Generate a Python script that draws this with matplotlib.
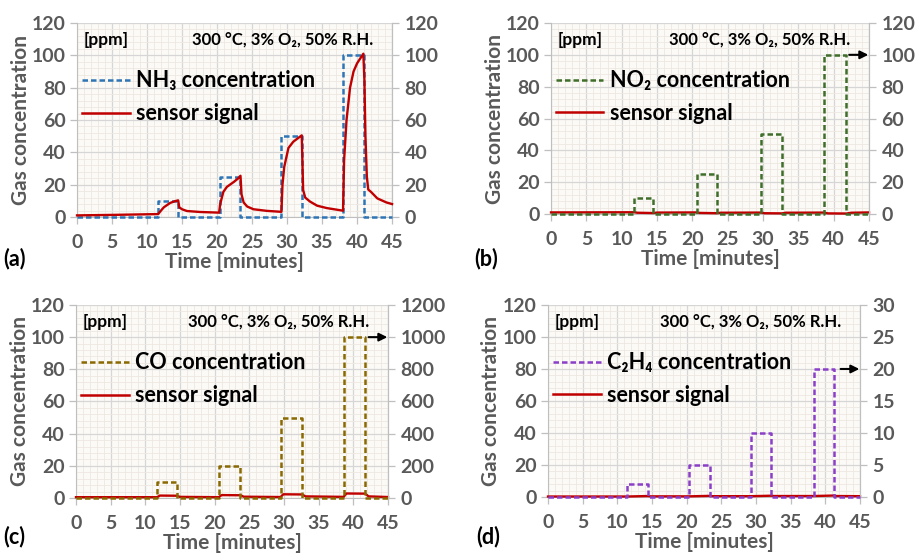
import matplotlib
matplotlib.use('Agg')
import matplotlib.pyplot as plt
from matplotlib.lines import Line2D
from matplotlib.ticker import MultipleLocator

plt.rcParams['font.family'] = ['Lato', 'DejaVu Sans']
plt.rcParams['font.weight'] = 'bold'

GRAY = '#595959'
RED = '#C00000'
DASH = (0, (2.2, 1.2))

# --- gas pulses: switch-on / switch-off times [min] and levels [ppm]
nh3_on = [11.6, 20.4, 29.2, 38.0]
nh3_off = [14.45, 23.35, 32.1, 41.05]
nh3_lvl = [10, 25, 50, 100]

no2_on = [11.8, 20.6, 29.7, 38.6]
no2_off = [14.5, 23.5, 32.7, 41.8]
no2_lvl = [10, 25, 50, 100]

co_on = [11.7, 20.6, 29.5, 38.6]
co_off = [14.5, 23.7, 32.6, 41.7]
co_lvl = [100, 200, 500, 1000]

c2h4_on = [11.4, 20.3, 29.3, 38.3]
c2h4_off = [14.4, 23.3, 32.2, 41.2]
c2h4_lvl = [2, 5, 10, 20]

# --- sensor signals
t_a = [0, 5, 11.6, 12.0, 12.4, 13.3, 14.0, 14.45, 14.6, 15.0, 15.7, 17.6, 20.3,
       20.45, 20.9, 21.4, 22.4, 23.0, 23.35, 23.5, 23.8, 24.3, 25.2, 27.1, 29.2,
       29.35, 29.6, 30.2, 30.9, 32.1, 32.3, 32.6, 33.3, 34.3, 35.7, 38.0, 38.15,
       38.5, 39.0, 39.5, 40.0, 40.9, 41.05, 41.2, 41.4, 41.6, 42.0, 42.9, 44.2, 45]
s_a = [1.0, 1.3, 1.8, 4.0, 6.0, 8.7, 9.8, 10.3, 6.0, 4.8, 3.7, 3.1, 2.7,
       8.0, 15.5, 18.6, 21.7, 23.8, 25.5, 14.0, 9.0, 6.5, 4.8, 3.8, 3.2,
       20.0, 31.0, 42.7, 46.6, 50.5, 16.7, 12.0, 9.5, 7.0, 5.5, 3.9, 35.0,
       60.0, 80.0, 90.0, 95.0, 101.0, 85.0, 50.0, 25.0, 17.0, 15.5, 11.5, 9.0, 8.0]

t_b = [0, 11.8, 12.2, 14.5, 15.0, 20.6, 21.0, 23.5, 24.0, 29.7, 30.2, 32.7, 33.2,
       38.6, 39.2, 41.8, 42.5, 45]
s_b = [1.0, 1.1, 0.8, 0.6, 0.9, 1.0, 0.7, 0.5, 0.8, 0.9, 0.5, 0.4, 0.8,
       0.9, 0.4, 0.3, 0.8, 1.0]

t_c = [0, 11.7, 12.1, 14.5, 15.0, 20.6, 21.0, 23.7, 24.2, 29.5, 29.9, 32.6, 33.1,
       38.6, 39.0, 41.7, 42.2, 45]
s_c = [0.5, 0.5, 1.5, 1.4, 0.7, 0.5, 1.8, 1.7, 0.8, 0.6, 2.3, 2.2, 1.0,
       0.7, 2.8, 2.7, 1.0, 0.6]

t_d = [0, 11.4, 14.4, 14.8, 20.3, 23.3, 23.7, 29.3, 32.2, 32.6, 38.3, 41.2, 41.6, 45]
s_d = [0.3, 0.3, 0.6, 0.4, 0.4, 0.7, 0.5, 0.5, 0.8, 0.6, 0.6, 0.9, 0.6, 0.5]

panels = [
    dict(tag='(a)', gas='NH\u2083 concentration', col='#2E75B6', on=nh3_on, off=nh3_off,
         lvl=nh3_lvl, t=t_a, s=s_a, rmax=120, rstep=20, sens_top=True, arrow=None,
         rect=[0.0838, 0.6083, 0.3428, 0.3502], lab=(0.003, 0.513)),
    dict(tag='(b)', gas='NO\u2082 concentration', col='#3F6D2A', on=no2_on, off=no2_off,
         lvl=no2_lvl, t=t_b, s=s_b, rmax=120, rstep=20, sens_top=False, arrow=100,
         rect=[0.5996, 0.6137, 0.3460, 0.3448], lab=(0.516, 0.513)),
    dict(tag='(c)', gas='CO concentration', col='#8A6A00', on=co_on, off=co_off,
         lvl=co_lvl, t=t_c, s=s_c, rmax=1200, rstep=200, sens_top=False, arrow=100,
         rect=[0.0827, 0.1011, 0.3395, 0.3484], lab=(0.003, 0.012)),
    dict(tag='(d)', gas='C\u2082H\u2084 concentration', col='#8A3FC8', on=c2h4_on, off=c2h4_off,
         lvl=c2h4_lvl, t=t_d, s=s_d, rmax=30, rstep=5, sens_top=False, arrow=80,
         rect=[0.5963, 0.1029, 0.3395, 0.3466], lab=(0.518, 0.012)),
]

fig = plt.figure(figsize=(9.19, 5.54), dpi=100)

for p in panels:
    ax = fig.add_axes(p['rect'])
    ax.set_facecolor('#FCFAF7')
    ax.set_xlim(0, 45)
    ax.set_ylim(0, 120)
    ax.xaxis.set_major_locator(MultipleLocator(5))
    ax.xaxis.set_minor_locator(MultipleLocator(1))
    ax.yaxis.set_major_locator(MultipleLocator(20))
    ax.yaxis.set_minor_locator(MultipleLocator(4))
    ax.grid(which='minor', color='#EEE7E1', lw=0.6)
    ax.grid(which='major', color='#D6D6D6', lw=0.9)
    ax.set_axisbelow(True)
    ax.spines['top'].set_visible(False)
    for side in ['left', 'bottom', 'right']:
        ax.spines[side].set_color('#BFBFBF')
    ax.tick_params(which='minor', length=0)
    ax.tick_params(which='major', colors='#BFBFBF', labelcolor=GRAY, labelsize=14,
                   length=5, width=0.9, direction='out', pad=3)
    ax.tick_params(axis='x', pad=7)
    ax.set_xlabel('Time [minutes]', color=GRAY, fontsize=15, fontweight='bold', labelpad=1)
    ax.set_ylabel('Gas concentration', color=GRAY, fontsize=15, fontweight='bold', labelpad=1)

    ax2 = ax.twinx()
    ax2.set_ylim(0, p['rmax'])
    ax2.yaxis.set_major_locator(MultipleLocator(p['rstep']))
    for side in ['top', 'left', 'bottom']:
        ax2.spines[side].set_visible(False)
    ax2.spines['right'].set_color('#BFBFBF')
    ax2.tick_params(which='major', colors='#BFBFBF', labelcolor=GRAY, labelsize=14,
                    length=5, width=0.9, direction='out', pad=4)
    ax2.patch.set_visible(False)

    # step series built from the on/off tables (right-hand scale)
    xs, ys = [0], [0]
    for a, b, v in zip(p['on'], p['off'], p['lvl']):
        xs += [a, a, b, b]
        ys += [0, v, v, 0]
    xs.append(45)
    ys.append(0)
    ax2.plot(xs, ys, color=p['col'], lw=1.8, ls=DASH, zorder=3, clip_on=False)
    sax = ax2 if p['sens_top'] else ax
    sax.plot(p['t'], p['s'], color=RED, lw=1.7, zorder=4, clip_on=False)

    if p['arrow'] is not None:
        ax.annotate('', xy=(44.9, p['arrow']), xytext=(42.2, p['arrow']),
                    arrowprops=dict(arrowstyle='-|>', color='black', lw=1.5,
                                    mutation_scale=12, shrinkA=0, shrinkB=0),
                    annotation_clip=False)

    ax2.text(0.02, 0.955, '[ppm]', transform=ax.transAxes, fontsize=12.5,
             fontweight='bold', va='top', ha='left', zorder=6)
    ax2.text(0.94, 0.955, '300 \u00b0C, 3% O\u2082, 50% R.H.', transform=ax.transAxes,
             fontsize=12, fontweight='bold', va='top', ha='right', zorder=6)

    handles = [Line2D([], [], color=p['col'], lw=1.8, ls=DASH),
               Line2D([], [], color=RED, lw=1.8)]
    leg = ax2.legend(handles, [p['gas'], 'sensor signal'], loc='upper left',
                     bbox_to_anchor=(-0.045, 0.855), frameon=False, fontsize=15.5,
                     handlelength=2.2, handletextpad=0.3, labelspacing=0.55)
    for txt in leg.get_texts():
        txt.set_fontweight('bold')

    fig.text(p['lab'][0], p['lab'][1], p['tag'], fontsize=15.5, fontweight='bold',
             ha='left', va='bottom')

fig.savefig('out.png', dpi=100)
